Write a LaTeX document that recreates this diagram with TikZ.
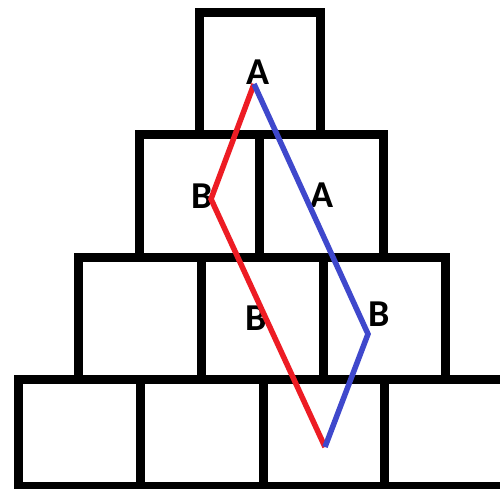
\documentclass[tikz,border=0pt]{standalone}
\usepackage{fontspec}
\setmainfont{Carlito}
\definecolor{pred}{RGB}{237,28,36}
\definecolor{pblue}{RGB}{63,72,204}
\tikzset{
  boxline/.style={draw=black, line width=9pt, line join=miter},
  lbl/.style={font=\fontsize{38}{38}\selectfont\bfseries, inner sep=0pt, text=black},
  redline/.style={draw=pred, line width=5.5pt, line join=miter},
  blueline/.style={draw=pblue, line width=5.5pt, line join=miter}
}
\begin{document}
\begin{tikzpicture}[x=1pt,y=-1pt]
\fill[white] (0,0) rectangle (500,488);
\useasboundingbox (0,0) rectangle (500,488);
% top box
\draw[boxline] (199.5,134.5) -- (199.5,12.5) -- (320.5,12.5) -- (320.5,134.5);
% row 2
\draw[boxline] (139.5,257) -- (139.5,134.5) -- (383,134.5) -- (383,257);
\draw[boxline] (259.5,134.5) -- (259.5,257);
% row 3
\draw[boxline] (78,379.5) -- (78,257) -- (445.5,257) -- (445.5,379.5);
\draw[boxline] (201,257) -- (201,379.5);
\draw[boxline] (323,257) -- (323,379.5);
% row 4
\draw[boxline] (510,486.5) -- (18,486.5) -- (18,379.5) -- (510,379.5);
\draw[boxline] (140,379.5) -- (140,495);
\draw[boxline] (263,379.5) -- (263,495);
\draw[boxline] (384.5,379.5) -- (384.5,495);
% labels
\node[lbl] (a1) at (258,72) {A};
\node[lbl] (b1) at (202,196) {B};
\node[lbl] (a2) at (322.5,195) {A};
\node[lbl] (b2) at (256,318) {B};
\node[lbl] (b3) at (379,314.5) {B};
% path points
\coordinate (pA) at (254,84);
\coordinate (pL) at (211,199);
\coordinate (pR) at (368,334);
\coordinate (pV) at (325,447);
\draw[redline] (pA) -- (pL) -- (pV);
\draw[blueline] (pA) -- (pR) -- (pV);
\end{tikzpicture}
\end{document}
